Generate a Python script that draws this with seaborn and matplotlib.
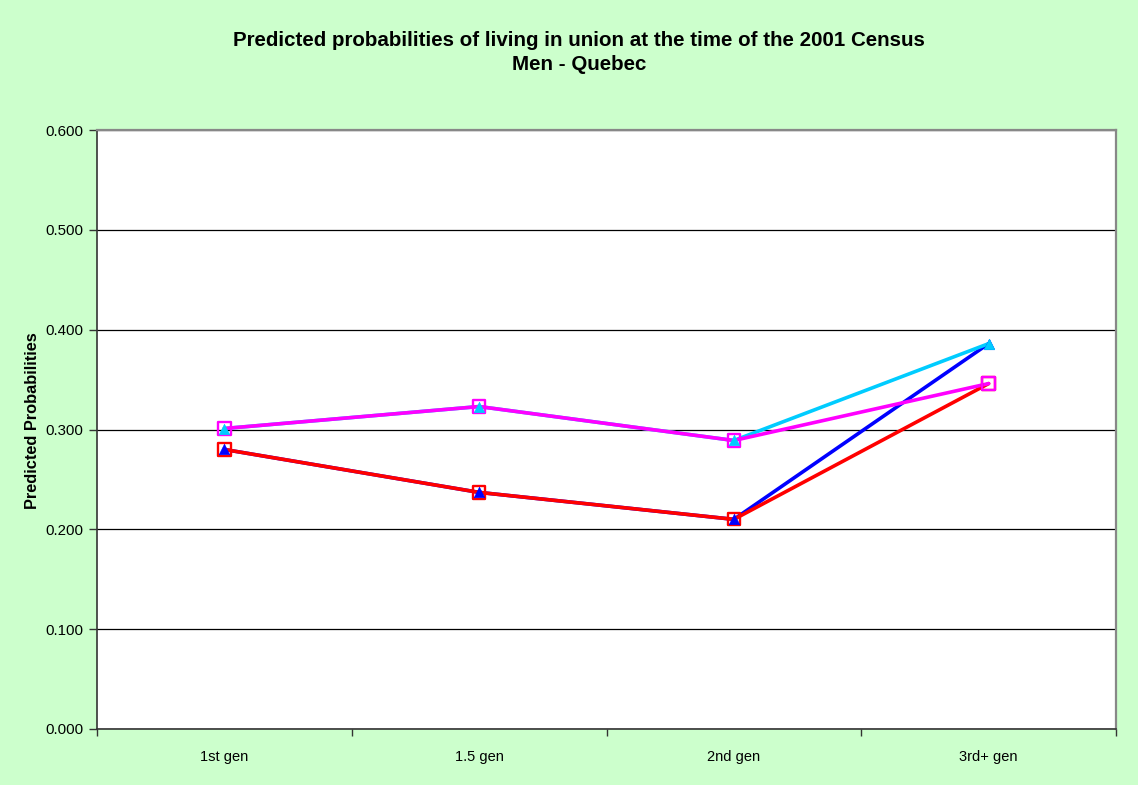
import matplotlib
matplotlib.use("Agg")
import matplotlib.pyplot as plt
from matplotlib import font_manager
import seaborn as sns
import pandas as pd

# Generations along the horizontal axis
generations = ["1st gen", "1.5 gen", "2nd gen", "3rd+ gen"]

# Predicted probabilities for each model
model_a = [0.280, 0.237, 0.210, 0.386]
model_b = [0.280, 0.237, 0.210, 0.346]
model_c = [0.301, 0.323, 0.289, 0.386]
model_d = [0.301, 0.323, 0.289, 0.346]

y_ticks = [0.0, 0.1, 0.2, 0.3, 0.4, 0.5, 0.6]

series = [
    ("Model A", model_a, "#0000FF", "^"),
    ("Model B", model_b, "#FF0000", "s"),
    ("Model C", model_c, "#00CCFF", "^"),
    ("Model D", model_d, "#FF00FF", "s"),
]

frames = []
for name, vals, _, _ in series:
    frames.append(pd.DataFrame({"generation": generations, "prob": vals, "model": name}))
df = pd.concat(frames, ignore_index=True)
df["pos"] = df["generation"].map({g: i for i, g in enumerate(generations)})

sns.set_theme(style="white")
available = {f.name for f in font_manager.fontManager.ttflist}
base_font = "Liberation Sans" if "Liberation Sans" in available else "DejaVu Sans"
title_font = "Liberation Sans Narrow" if "Liberation Sans Narrow" in available else base_font
plt.rcParams["font.family"] = [base_font, "DejaVu Sans"]
plt.rcParams["text.color"] = "black"

bg = "#CCFFCC"
fig = plt.figure(figsize=(11.38, 7.85), dpi=100, facecolor=bg)
ax = fig.add_axes([97 / 1138, 1 - 729 / 785, (1116 - 97) / 1138, (729 - 130) / 785])
ax.set_facecolor("white")

# lines first, in series order
for name, _, color, _ in series:
    sub = df[df["model"] == name]
    sns.lineplot(data=sub, x="pos", y="prob", color=color, lw=2.6,
                 ax=ax, legend=False, zorder=3, sort=False)

# markers on top
for name, _, color, marker in series:
    sub = df[df["model"] == name]
    if marker == "s":
        ax.scatter(sub["pos"], sub["prob"], marker="s", s=78, facecolors="none",
                   edgecolors=color, linewidths=1.7, zorder=4)
    else:
        ax.scatter(sub["pos"], sub["prob"], marker="^", s=56, color=color,
                   edgecolors=color, linewidths=0.5, zorder=5)

ax.set_xlim(-0.5, len(generations) - 0.5)
ax.set_ylim(0, 0.6)
ax.set_yticks(y_ticks)
ax.set_yticklabels([f"{v:.3f}" for v in y_ticks])
ax.yaxis.grid(True, color="black", lw=0.9)
ax.set_axisbelow(True)

# boundary tick marks between categories, labels at category centres
ax.set_xticks([i - 0.5 for i in range(len(generations) + 1)])
ax.set_xticklabels([""] * (len(generations) + 1))
ax.set_xticks(range(len(generations)), minor=True)
ax.set_xticklabels(generations, minor=True)
ax.tick_params(axis="x", which="major", direction="out", length=5, width=1, color="#333333", bottom=True)
ax.tick_params(axis="x", which="minor", length=0, pad=15, labelsize=10.5, labelcolor="black")
ax.tick_params(axis="y", direction="out", length=6, width=1, color="#333333", left=True,
               labelsize=10.8, labelcolor="black", pad=4)

for side in ["left", "bottom"]:
    ax.spines[side].set_color("#333333")
    ax.spines[side].set_linewidth(1.2)
for side in ["top", "right"]:
    ax.spines[side].set_color("#888888")
    ax.spines[side].set_linewidth(1.6)

ax.set_xlabel("")
ax.set_ylabel("Predicted Probabilities", fontsize=11.8, fontweight="bold", color="black")
ax.yaxis.set_label_coords(-0.056, 0.515)

fig.text(0.509, 1 - 40 / 785, "Predicted probabilities of living in union at the time of the 2001 Census",
         ha="center", va="center", fontsize=14.8, fontweight="bold", color="black",
         family=[title_font, "DejaVu Sans"])
fig.text(0.509, 1 - 64 / 785, "Men - Quebec", ha="center", va="center", fontsize=14.8,
         fontweight="bold", color="black", family=[title_font, "DejaVu Sans"])

fig.savefig("out.png", dpi=100, facecolor=bg)
